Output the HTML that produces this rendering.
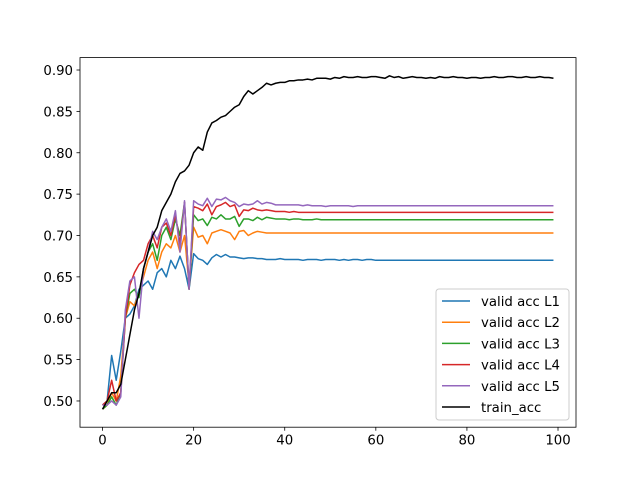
<!DOCTYPE html>
<html><head><meta charset="utf-8"><style>
body{margin:0;background:#fff}
svg{display:block;font-family:"DejaVu Sans","Liberation Sans",sans-serif}
</style></head><body>
<svg id="chart" width="640" height="480" viewBox="0 0 640 480" xmlns="http://www.w3.org/2000/svg">
<rect width="640" height="480" fill="#fff"/>
<g id="series"></g>
<rect x="80" y="57.6" width="496" height="369.6" fill="none" stroke="#000" stroke-width="0.8"/>
<g id="xticks"></g>
<g id="yticks"></g>
<g id="legend"></g>
</svg>
<script>
const xTicks=[0,20,40,60,80,100];
const yTicks=[0.50,0.55,0.60,0.65,0.70,0.75,0.80,0.85,0.90];
const seriesNames=["valid acc L1","valid acc L2","valid acc L3","valid acc L4","valid acc L5","train_acc"];
const seriesColors=["#1f77b4","#ff7f0e","#2ca02c","#d62728","#9467bd","#000000"];
const L1=[0.495,0.50,0.555,0.525,0.56,0.60,0.605,0.615,0.635,0.64,0.645,0.635,0.655,0.66,0.65,0.67,0.66,0.675,0.66,0.635,0.678,0.672,0.67,0.665,0.673,0.677,0.674,0.677,0.674,0.674,0.673,0.672,0.673,0.673,0.672,0.672,0.671,0.671,0.671,0.672,0.671,0.671,0.671,0.671,0.670,0.671,0.671,0.671,0.670,0.671,0.671,0.671,0.670,0.671,0.670,0.671,0.671,0.670,0.671,0.671,0.670,0.670,0.670,0.670,0.670,0.670,0.670,0.670,0.670,0.670,0.670,0.670,0.670,0.670,0.670,0.670,0.670,0.670,0.670,0.670,0.670,0.670,0.670,0.670,0.670,0.670,0.670,0.670,0.670,0.670,0.670,0.670,0.670,0.670,0.670,0.670,0.670,0.670,0.670,0.670];
const L2=[0.49,0.495,0.51,0.50,0.53,0.60,0.62,0.615,0.63,0.65,0.67,0.68,0.66,0.68,0.69,0.685,0.70,0.68,0.70,0.64,0.71,0.698,0.70,0.69,0.703,0.705,0.707,0.705,0.703,0.695,0.705,0.706,0.70,0.703,0.705,0.704,0.703,0.703,0.703,0.703,0.703,0.703,0.703,0.703,0.703,0.703,0.703,0.703,0.703,0.703,0.703,0.703,0.703,0.703,0.703,0.703,0.703,0.703,0.703,0.703,0.703,0.703,0.703,0.703,0.703,0.703,0.703,0.703,0.703,0.703,0.703,0.703,0.703,0.703,0.703,0.703,0.703,0.703,0.703,0.703,0.703,0.703,0.703,0.703,0.703,0.703,0.703,0.703,0.703,0.703,0.703,0.703,0.703,0.703,0.703,0.703,0.703,0.703,0.703,0.703];
const L3=[0.49,0.495,0.505,0.495,0.51,0.60,0.63,0.635,0.625,0.66,0.68,0.69,0.67,0.70,0.71,0.695,0.72,0.70,0.74,0.635,0.725,0.718,0.72,0.712,0.722,0.72,0.725,0.72,0.72,0.723,0.711,0.72,0.72,0.718,0.722,0.719,0.722,0.721,0.72,0.72,0.72,0.719,0.72,0.72,0.719,0.719,0.719,0.72,0.719,0.719,0.719,0.719,0.719,0.719,0.719,0.719,0.719,0.719,0.719,0.719,0.719,0.719,0.719,0.719,0.719,0.719,0.719,0.719,0.719,0.719,0.719,0.719,0.719,0.719,0.719,0.719,0.719,0.719,0.719,0.719,0.719,0.719,0.719,0.719,0.719,0.719,0.719,0.719,0.719,0.719,0.719,0.719,0.719,0.719,0.719,0.719,0.719,0.719,0.719,0.719];
const L4=[0.495,0.50,0.525,0.50,0.51,0.60,0.64,0.655,0.665,0.67,0.69,0.70,0.685,0.71,0.715,0.70,0.725,0.69,0.74,0.635,0.735,0.733,0.73,0.738,0.725,0.735,0.737,0.74,0.735,0.737,0.723,0.731,0.73,0.733,0.731,0.73,0.731,0.73,0.729,0.729,0.729,0.728,0.729,0.728,0.728,0.728,0.728,0.728,0.728,0.728,0.728,0.728,0.728,0.728,0.728,0.728,0.728,0.728,0.728,0.728,0.728,0.728,0.728,0.728,0.728,0.728,0.728,0.728,0.728,0.728,0.728,0.728,0.728,0.728,0.728,0.728,0.728,0.728,0.728,0.728,0.728,0.728,0.728,0.728,0.728,0.728,0.728,0.728,0.728,0.728,0.728,0.728,0.728,0.728,0.728,0.728,0.728,0.728,0.728,0.728];
const L5=[0.495,0.495,0.50,0.495,0.505,0.61,0.645,0.65,0.60,0.66,0.68,0.705,0.695,0.71,0.72,0.705,0.73,0.68,0.742,0.635,0.742,0.738,0.736,0.745,0.735,0.744,0.743,0.746,0.742,0.74,0.735,0.738,0.737,0.738,0.742,0.738,0.740,0.739,0.737,0.737,0.737,0.737,0.737,0.737,0.736,0.737,0.736,0.736,0.736,0.735,0.736,0.736,0.736,0.736,0.736,0.735,0.736,0.736,0.736,0.736,0.736,0.736,0.736,0.736,0.736,0.736,0.736,0.736,0.736,0.736,0.736,0.736,0.736,0.736,0.736,0.736,0.736,0.736,0.736,0.736,0.736,0.736,0.736,0.736,0.736,0.736,0.736,0.736,0.736,0.736,0.736,0.736,0.736,0.736,0.736,0.736,0.736,0.736,0.736,0.736];
const TRAIN=[0.49,0.50,0.51,0.51,0.52,0.55,0.58,0.61,0.63,0.66,0.68,0.70,0.71,0.73,0.74,0.75,0.765,0.775,0.778,0.785,0.80,0.807,0.803,0.825,0.836,0.839,0.843,0.845,0.850,0.855,0.858,0.868,0.875,0.871,0.875,0.879,0.884,0.882,0.884,0.885,0.885,0.887,0.887,0.888,0.888,0.889,0.888,0.890,0.890,0.890,0.889,0.891,0.890,0.892,0.891,0.891,0.892,0.891,0.891,0.892,0.892,0.891,0.890,0.893,0.891,0.892,0.890,0.891,0.892,0.891,0.891,0.890,0.891,0.890,0.892,0.891,0.891,0.892,0.891,0.891,0.890,0.891,0.891,0.890,0.891,0.891,0.892,0.891,0.891,0.892,0.892,0.891,0.891,0.892,0.891,0.891,0.892,0.891,0.891,0.890];
const allSeries=[L1,L2,L3,L4,L5,TRAIN];

const PL=80,PR=576,PT=57.6,PB=427.2;
const XMIN=-4.95,XMAX=103.95,YMIN=0.4683,YMAX=0.9150;
const sx=v=>PL+(v-XMIN)/(XMAX-XMIN)*(PR-PL);
const sy=v=>PB-(v-YMIN)/(YMAX-YMIN)*(PB-PT);
const NS="http://www.w3.org/2000/svg";
function mk(tag,attrs,parent){const e=document.createElementNS(NS,tag);for(const k in attrs)e.setAttribute(k,attrs[k]);parent.appendChild(e);return e;}

const sg=document.getElementById('series');
allSeries.forEach((arr,i)=>{
  const d=arr.map((v,j)=>(j?'L':'M')+sx(j).toFixed(2)+','+sy(v).toFixed(2)).join('');
  const p=mk('path',{d:d,fill:'none',stroke:seriesColors[i],'stroke-width':1.5,'stroke-linejoin':'round'},sg);
  
  
});

const xg=document.getElementById('xticks');
xTicks.forEach(t=>{
  const l=mk('line',{x1:sx(t),x2:sx(t),y1:PB,y2:PB+3.5,stroke:'#000','stroke-width':0.8},xg);
  
  
  const tx=mk('text',{x:sx(t),y:PB+17.5,'text-anchor':'middle','font-size':'13.3px',fill:'#000'},xg);
  tx.textContent=t;
  
  
});
const yg=document.getElementById('yticks');
yTicks.forEach(t=>{
  const l=mk('line',{x1:PL-3.5,x2:PL,y1:sy(t),y2:sy(t),stroke:'#000','stroke-width':0.8},yg);
  
  
  const tx=mk('text',{x:PL-7,y:sy(t)+5,'text-anchor':'end','font-size':'13.3px',fill:'#000'},yg);
  tx.textContent=t.toFixed(2);
  
  
});

const lg=document.getElementById('legend');
const box=mk('rect',{x:436,y:289,width:133,height:131,rx:3,fill:'#fff','fill-opacity':0.8,stroke:'#ccc','stroke-width':1},lg);


seriesNames.forEach((n,i)=>{
  const y=301+i*21.2;
  const l=mk('line',{x1:442,x2:470,y1:y,y2:y,stroke:seriesColors[i],'stroke-width':1.5},lg);
  
  
  const tx=mk('text',{x:481,y:y+5,'font-size':'13.3px',fill:'#000'},lg);
  tx.textContent=n;
  
  
});
</script>
</body></html>
